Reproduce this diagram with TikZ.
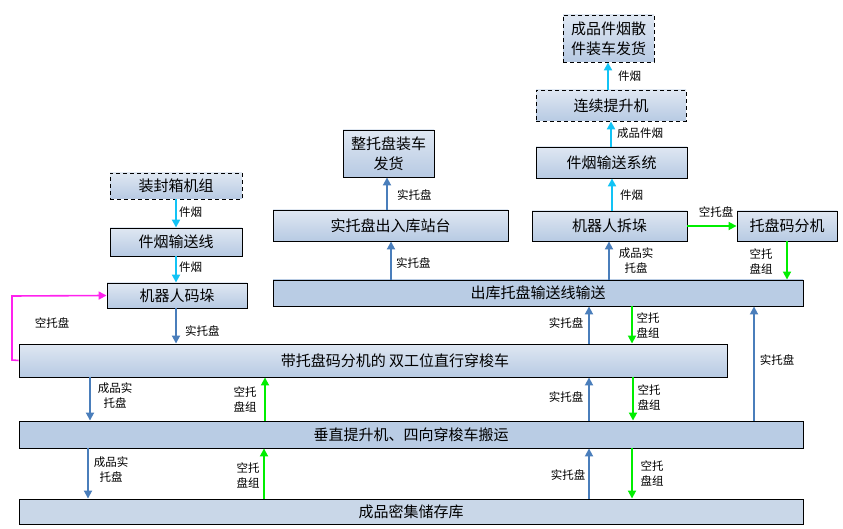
\documentclass[tikz,border=0pt]{standalone}
\usepackage{fontspec}
\newfontfamily\cjk{Noto Sans CJK SC}
\usetikzlibrary{arrows.meta}
\definecolor{boxtop}{HTML}{DFE7F2}
\definecolor{boxbot}{HTML}{B7CAE3}
\definecolor{flatA}{HTML}{B9CCE4}
\definecolor{flatB}{HTML}{C9D7E8}
\definecolor{arrblue}{HTML}{4A7EBB}
\definecolor{arrcyan}{HTML}{12C3F5}
\definecolor{arrgreen}{HTML}{00EE00}
\definecolor{arrmag}{HTML}{FF22EE}
\tikzset{
  box/.style={draw=black, line width=0.9pt, top color=boxtop, bottom color=boxbot,
    inner sep=0pt, align=center, font=\cjk\fontsize{15}{20}\selectfont},
  flatbox/.style={box, top color=#1, bottom color=#1},
  dbox/.style={box, dashed, dash pattern=on 4pt off 3pt},
  lbl/.style={font=\cjk\fontsize{11.5}{15}\selectfont, inner sep=0pt, align=center},
  tip/.style={-{Triangle[length=8pt,width=8pt]}},
  barrow/.style={tip, draw=arrblue, line width=1.8pt},
  carrow/.style={tip, draw=arrcyan, line width=2.4pt},
  garrow/.style={tip, draw=arrgreen, line width=1.8pt},
  marrow/.style={tip, draw=arrmag, line width=1.6pt},
}
\begin{document}
\begin{tikzpicture}[x=1pt,y=-1pt]
\useasboundingbox (0,0) rectangle (843,529);
% boxes
\node[dbox, minimum width=132pt, minimum height=26pt] (zf) at (176,186) {装封箱机组};
\node[box, minimum width=132pt, minimum height=28pt] (jy) at (176,242) {件烟输送线};
\node[box, minimum width=140pt, minimum height=25pt] (mr) at (177,295.5) {机器人码垛};
\node[box, minimum width=708pt, minimum height=33pt] (dt) at (373,360.5) {\hspace*{44pt}带托盘码分机的 双工位直行穿梭车};
\node[flatbox=flatA, minimum width=784pt, minimum height=27pt] (cz) at (411,434.5) {垂直提升机、四向穿梭车搬运};
\node[flatbox=flatB, minimum width=784pt, minimum height=25pt] (cp) at (411,511.5) {成品密集储存库};
\node[flatbox=flatA, minimum width=530pt, minimum height=26pt] (ck) at (538,293) {出库托盘输送线输送};
\node[box, minimum width=235pt, minimum height=31pt] (sz) at (390.5,225.5) {实托盘出入库站台};
\node[box, minimum width=91pt, minimum height=47pt] (zt) at (388.5,153.5) {整托盘装车\\发货};
\node[dbox, minimum width=91pt, minimum height=47pt] (sj) at (608.5,38.5) {成品件烟散\\件装车发货};
\node[dbox, minimum width=150pt, minimum height=31pt] (lx) at (611,105.5) {连续提升机};
\node[box, minimum width=151pt, minimum height=31pt] (js) at (611.5,162.5) {件烟输送系统};
\node[box, minimum width=155pt, minimum height=30pt] (cd) at (609.5,226) {机器人拆垛};
\node[box, minimum width=100pt, minimum height=30pt] (tp) at (787,226) {托盘码分机};

% cyan arrows
\draw[carrow] (176,0 |- zf.south) -- (176,0 |- jy.north);
\draw[carrow] (176,0 |- jy.south) -- (176,0 |- mr.north);
\draw[carrow] (612,0 |- cd.north) -- (612,0 |- js.south);
\draw[carrow] (611,0 |- js.north) -- (611,0 |- lx.south);
\draw[carrow] (608,0 |- lx.north) -- (608,0 |- sj.south);

% blue arrows
\draw[barrow] (176,0 |- mr.south) -- (176,0 |- dt.north);
\draw[barrow] (387,0 |- sz.north) -- (387,0 |- zt.south);
\draw[barrow] (391,0 |- ck.north) -- (391,0 |- sz.south);
\draw[barrow] (609,0 |- ck.north) -- (609,0 |- cd.south);
\draw[barrow] (589,0 |- dt.north) -- (589,0 |- ck.south);
\draw[barrow] (589,0 |- cz.north) -- (589,0 |- dt.south);
\draw[barrow] (589,0 |- cp.north) -- (589,0 |- cz.south);
\draw[barrow] (754,0 |- cz.north) -- (754,0 |- ck.south);
\draw[barrow] (90,0 |- dt.south) -- (90,0 |- cz.north);
\draw[barrow] (88,0 |- cz.south) -- (88,0 |- cp.north);

% green arrows
\draw[garrow] (cd.east) -- (tp.west);
\draw[garrow] (787,0 |- tp.south) -- (787,0 |- ck.north);
\draw[garrow] (632,0 |- ck.south) -- (632,0 |- dt.north);
\draw[garrow] (633,0 |- dt.south) -- (633,0 |- cz.north);
\draw[garrow] (632,0 |- cz.south) -- (632,0 |- cp.north);
\draw[garrow] (265,0 |- cz.north) -- (265,0 |- dt.south);
\draw[garrow] (264,0 |- cp.north) -- (264,0 |- cz.south);

% magenta
\coordinate (m1) at (12,360);
\coordinate (m2) at (12,296);
\draw[marrow] (dt.west) -- (m1) -- (m2) -- (mr.west);

% labels
\node[lbl, anchor=west] (l1) at (179,212) {件烟};
\node[lbl, anchor=west] (l2) at (179,267) {件烟};
\node[lbl] (l3) at (52,323) {空托盘};
\node[lbl, anchor=west] (l4) at (185,331) {实托盘};
\node[lbl, anchor=west] (l5) at (397,195) {实托盘};
\node[lbl, anchor=west] (l6) at (396,263) {实托盘};
\node[lbl, anchor=west] (l7) at (618,76) {件烟};
\node[lbl, anchor=west] (l8) at (617,133) {成品件烟};
\node[lbl, anchor=west] (l9) at (620,195) {件烟};
\node[lbl] (l10) at (636,261) {成品实\\托盘};
\node[lbl] (l11) at (716,212) {空托盘};
\node[lbl] (l12) at (761,261) {空托\\盘组};
\node[lbl] (l13) at (566,323) {实托盘};
\node[lbl] (l14) at (648,325) {空托\\盘组};
\node[lbl] (l15) at (566,397) {实托盘};
\node[lbl] (l16) at (649,397) {空托\\盘组};
\node[lbl] (l17) at (777,360) {实托盘};
\node[lbl] (l18) at (568,475) {实托盘};
\node[lbl] (l19) at (652,473) {空托\\盘组};
\node[lbl] (l20) at (115,396) {成品实\\托盘};
\node[lbl] (l21) at (245,399) {空托\\盘组};
\node[lbl] (l22) at (111,470) {成品实\\托盘};
\node[lbl] (l23) at (248,475) {空托\\盘组};
\end{tikzpicture}
\end{document}
